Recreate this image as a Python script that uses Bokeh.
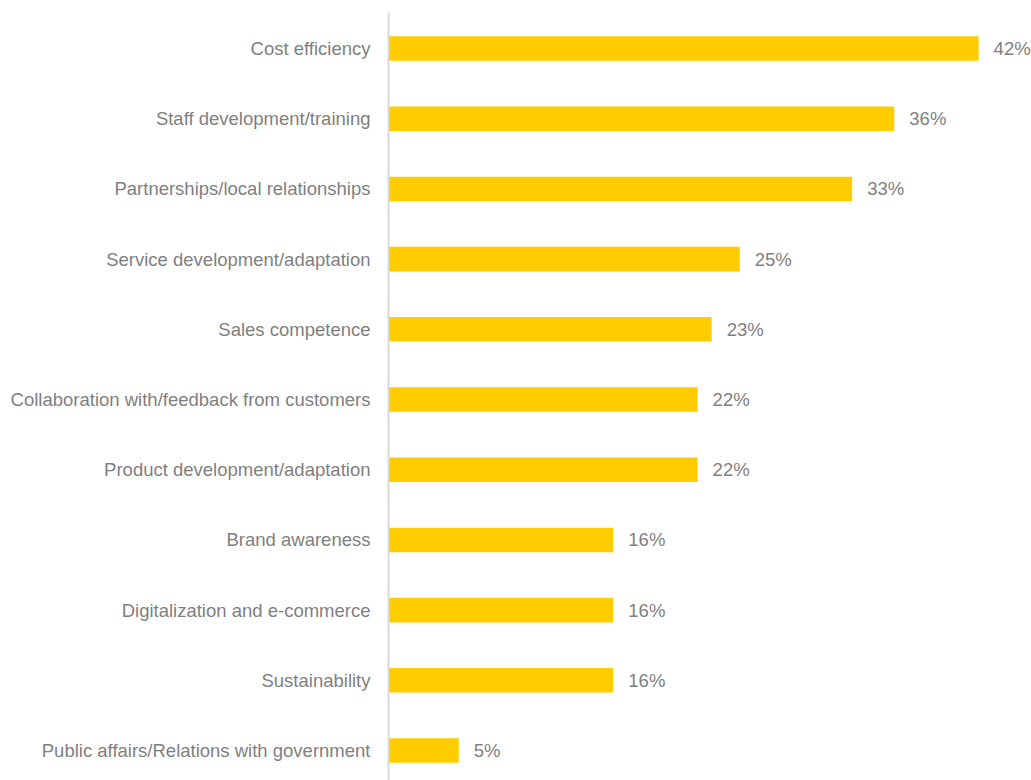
from bokeh.plotting import figure
from bokeh.models import Range1d, FixedTicker, ColumnDataSource
from bokeh.core.properties import value
from bokeh.embed import file_html
from bokeh.resources import INLINE

categories = [
    "Cost efficiency",
    "Staff development/training",
    "Partnerships/local relationships",
    "Service development/adaptation",
    "Sales competence",
    "Collaboration with/feedback from customers",
    "Product development/adaptation",
    "Brand awareness",
    "Digitalization and e-commerce",
    "Sustainability",
    "Public affairs/Relations with government",
]
values = [42, 36, 33, 25, 23, 22, 22, 16, 16, 16, 5]
labels = [f"{v}%" for v in values]

positions = list(range(len(categories)))
src = ColumnDataSource(dict(y=positions, v=values, lab=labels))

W, H = 1031, 780
p = figure(width=W, height=H, output_backend="svg", toolbar_location=None,
           x_range=Range1d(0, 643 / 14.05), y_range=Range1d(10.427, -0.513),
           min_border_left=388, min_border_right=0, min_border_top=12,
           min_border_bottom=0, outline_line_color=None)

p.hbar(y="y", left=0, right="v", height=0.35, source=src,
       fill_color="#FFCC00", line_color=None)
p.text(x="v", y="y", text="lab", source=src, x_offset=15,
       text_align="left", text_baseline="middle",
       text_font=value("Liberation Sans"), text_font_size="18.5px",
       text_color="#7f7f7f")

p.xaxis.visible = False
p.xgrid.visible = False
p.ygrid.visible = False
yax = p.yaxis[0]
yax.ticker = FixedTicker(ticks=positions)
yax.major_label_overrides = {i: c for i, c in zip(positions, categories)}
yax.major_tick_line_color = None
yax.minor_tick_line_color = None
yax.axis_line_color = "#d9d9d9"
yax.axis_line_width = 2
yax.major_label_standoff = 12
yax.major_label_text_font = "Liberation Sans"
yax.major_label_text_font_size = "18.5px"
yax.major_label_text_color = "#7f7f7f"

open("out.html", "w").write(file_html(p, INLINE))
